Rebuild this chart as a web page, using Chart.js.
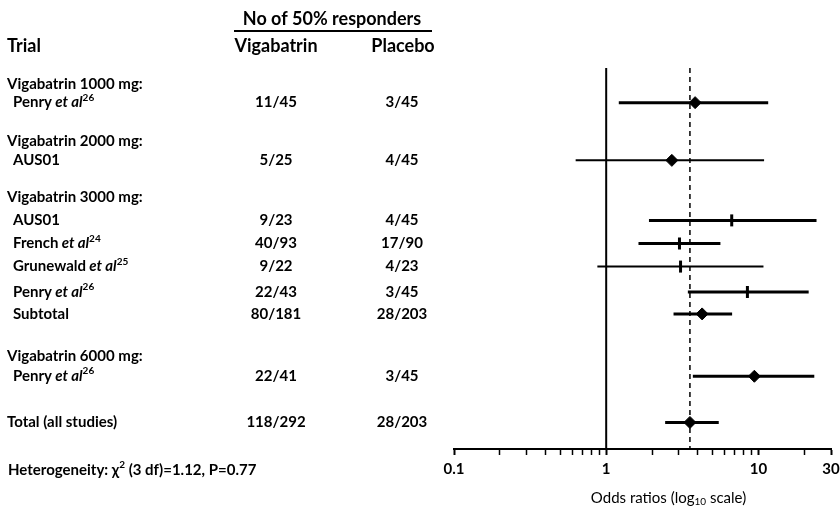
<!DOCTYPE html>
<html>
<head>
<meta charset="utf-8">
<script src="https://cdn.jsdelivr.net/npm/chart.js@4"></script>
<style>
  html, body { margin: 0; padding: 0; background: #fff; }
  #wrap { width: 840px; height: 512px; }
</style>
</head>
<body>
<div id="wrap"><canvas id="forestChart" width="840" height="512"></canvas></div>
<script>
// rows of the forest plot, top to bottom
const trialNames = ["Penry", "AUS01", "AUS01", "French", "Grunewald", "Penry", "Subtotal", "Penry", "Total (all studies)"];
const trialRefs = ["26", "", "", "24", "25", "26", "", "26", ""];
const vigResponders = ["11/45", "5/25", "9/23", "40/93", "9/22", "22/43", "80/181", "22/41", "118/292"];
const placeboResponders = ["3/45", "4/45", "4/45", "17/90", "4/23", "3/45", "28/203", "3/45", "28/203"];
const oddsRatio = [3.84, 2.70, 6.68, 3.03, 3.08, 8.47, 4.27, 9.41, 3.55];
const ciLow = [1.21, 0.63, 1.91, 1.63, 0.875, 3.44, 2.77, 3.71, 2.44];
const ciHigh = [11.6, 10.9, 24.1, 5.63, 10.8, 21.4, 6.72, 23.3, 5.49];
const markerType = ["diamond", "diamond", "tick", "tick", "tick", "tick", "diamond", "diamond", "diamond"];
const rowPos = [1.5, 4.0, 6.6, 7.6, 8.6, 9.7, 10.65, 13.35, 15.35];

const groupLabels = ["Vigabatrin 1000 mg:", "Vigabatrin 2000 mg:", "Vigabatrin 3000 mg:", "Vigabatrin 6000 mg:"];
const groupPos = [0.7, 3.15, 5.6, 12.5];

const pooledOR = 3.55;
const yMax = 16.5;
const tickValues = [0.1, 0.2, 0.3, 0.4, 0.5, 0.6, 0.7, 0.8, 0.9, 1, 2, 3, 4, 5, 6, 7, 8, 9, 10, 20, 30];
const tickLabels = [0.1, 1, 10, 30];

const FONT = "Lato, 'Open Sans', sans-serif";

// draws a run of text pieces (normal / italic / superscript)
function drawRich(ctx, parts, x, y, align) {
  let total = 0;
  parts.forEach(p => { ctx.font = p.font; total += ctx.measureText(p.text).width; });
  let cx = align === "center" ? x - total / 2 : x;
  ctx.textAlign = "left";
  parts.forEach(p => {
    ctx.font = p.font;
    ctx.fillText(p.text, cx, y + (p.dy || 0));
    cx += ctx.measureText(p.text).width;
  });
}

const tablePlugin = {
  id: "forestTable",
  afterDraw(chart) {
    const ctx = chart.ctx;
    const ys = chart.scales.y;
    const xs = chart.scales.x;
    const head = "bold 18px " + FONT;
    const main = "bold 15px " + FONT;
    const ital = "italic bold 15px " + FONT;
    const sup = "bold 10px " + FONT;
    const colVig = 276, colPla = 402;
    ctx.save();
    ctx.fillStyle = "#000";
    ctx.strokeStyle = "#000";
    ctx.textBaseline = "middle";

    // header
    drawRich(ctx, [{ text: "No of 50% responders", font: head }], 332, ys.getPixelForValue(-2.1), "center");
    ctx.lineWidth = 2;
    ctx.beginPath();
    ctx.moveTo(234, ys.getPixelForValue(-1.6));
    ctx.lineTo(432, ys.getPixelForValue(-1.6));
    ctx.stroke();
    const hy = ys.getPixelForValue(-0.95);
    drawRich(ctx, [{ text: "Trial", font: head }], 7, hy, "left");
    drawRich(ctx, [{ text: "Vigabatrin", font: head }], colVig, hy, "center");
    drawRich(ctx, [{ text: "Placebo", font: head }], 403, hy, "center");

    groupLabels.forEach((g, i) => {
      drawRich(ctx, [{ text: g, font: main }], 7, ys.getPixelForValue(groupPos[i]), "left");
    });

    trialNames.forEach((name, i) => {
      const py = ys.getPixelForValue(rowPos[i]);
      const parts = [{ text: name, font: main }];
      if (trialRefs[i]) {
        parts.push({ text: " et al", font: ital });
        parts.push({ text: trialRefs[i], font: sup, dy: -5 });
      }
      const indent = i === trialNames.length - 1 ? 7 : 13;
      drawRich(ctx, parts, indent, py, "left");
      drawRich(ctx, [{ text: vigResponders[i], font: main }], colVig, py, "center");
      drawRich(ctx, [{ text: placeboResponders[i], font: main }], colPla, py, "center");
    });

    // footnote
    drawRich(ctx, [
      { text: "Heterogeneity: \u03c7", font: main },
      { text: "2", font: sup, dy: -5 },
      { text: " (3 df)=1.12, P=0.77", font: main }
    ], 8, ys.getPixelForValue(17.4), "left");

    // axis title with subscript
    const tx = (xs.left + xs.right) / 2 + 26;
    drawRich(ctx, [
      { text: "Odds ratios (log", font: "15px " + FONT },
      { text: "10", font: "10px " + FONT, dy: 4 },
      { text: " scale)", font: "15px " + FONT }
    ], tx, 498, "center");
    ctx.restore();
  }
};

const ciSets = trialNames.map((n, i) => ({
  data: [{ x: ciLow[i], y: rowPos[i] }, { x: ciHigh[i], y: rowPos[i] }],
  showLine: true,
  borderColor: "#000",
  borderWidth: (i === 1 || i === 4) ? 2 : 3,
  pointRadius: 0
}));

const datasets = [
  {
    data: [{ x: 1, y: 0 }, { x: 1, y: yMax }],
    showLine: true, borderColor: "#000", borderWidth: 2, pointRadius: 0
  },
  {
    data: [{ x: pooledOR, y: 0 }, { x: pooledOR, y: yMax }],
    showLine: true, borderColor: "#000", borderWidth: 1.5, borderDash: [5, 4], pointRadius: 0
  },
  ...ciSets,
  {
    data: oddsRatio.map((v, i) => ({ x: v, y: rowPos[i] })),
    showLine: false,
    pointStyle: c => markerType[c.dataIndex] === "diamond" ? "rectRot" : "line",
    pointRotation: c => markerType[c.dataIndex] === "diamond" ? 0 : 90,
    pointRadius: 6,
    pointBorderWidth: c => markerType[c.dataIndex] === "diamond" ? 1 : 3,
    backgroundColor: "#000",
    borderColor: "#000"
  }
];

const ctx = document.getElementById("forestChart").getContext("2d");
new Chart(ctx, {
  type: "scatter",
  data: { datasets: datasets },
  options: {
    responsive: false,
    animation: false,
    layout: { padding: { left: 454, right: 0, top: 68, bottom: 29 } },
    plugins: { legend: { display: false }, tooltip: { enabled: false } },
    scales: {
      x: {
        type: "logarithmic",
        min: 0.1,
        max: 30,
        afterBuildTicks: scale => {
          scale.ticks = tickValues.map(v => ({ value: v }));
        },
        afterFit: scale => {
          scale.paddingLeft = 0;
          scale.paddingRight = 8;
        },
        ticks: {
          autoSkip: false,
          maxRotation: 0,
          padding: 5,
          color: "#000",
          font: { family: FONT, size: 15, weight: "bold" },
          callback: v => tickLabels.includes(v) ? String(v) : ""
        },
        grid: {
          drawOnChartArea: false,
          tickLength: 6,
          tickColor: "#000",
          tickWidth: c => (c.tick && tickLabels.includes(c.tick.value)) ? 2 : 1.5
        },
        border: { display: true, color: "#000", width: 2 }
      },
      y: {
        type: "linear",
        display: false,
        reverse: true,
        min: 0,
        max: yMax
      }
    }
  },
  plugins: [tablePlugin]
});
</script>
</body>
</html>
